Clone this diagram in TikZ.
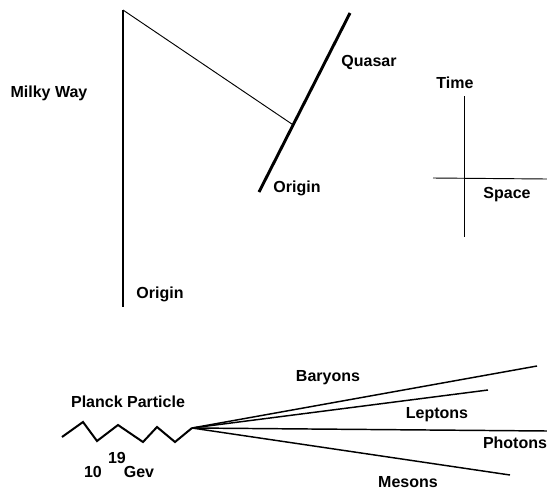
\documentclass[tikz,border=0pt]{standalone}
\usepackage{fontspec}
\setmainfont{Liberation Sans}
\usepackage{tikz}
\usetikzlibrary{positioning,calc}
\tikzset{lbl/.style={font=\bfseries\fontsize{12}{14}\selectfont,inner sep=0pt},worldline/.style={line width=1.5pt},thinline/.style={line width=0.7pt},fanline/.style={line width=1.1pt}}

\begin{document}
\begin{tikzpicture}[x=0.75pt,y=-0.75pt]
\useasboundingbox (0,0) rectangle (547,490);
% galaxy and quasar
\coordinate (mwtop) at (123,10);
\coordinate (mwbot) at (123,307);
\coordinate (qbot) at (259,192);
\coordinate (qtop) at (350,13);
\coordinate (qhit) at ($(qbot)!0.375!(qtop)$);
\draw[worldline] (mwtop)--(mwbot);
\draw[line width=2.2pt] (qbot)--(qtop);
\draw[thinline] (mwtop)--(qhit);
\node[lbl] (milky) at (49,93) {Milky Way};
\node[lbl] (mworigin) at (160,294) {Origin};
\node[lbl] (qorigin) at (297,188) {Origin};
\node[lbl] (quasar) at (369,62) {Quasar};
% axes
\coordinate (tup) at (464,96);
\coordinate (tdown) at (464,237);
\coordinate (sleft) at (433,178);
\coordinate (sright) at (547,179);
\draw[thinline] (tup)--(tdown);
\draw[thinline] (sleft)--(sright);
\node[lbl] (time) at (455,83) {Time};
\node[lbl] (space) at (507,195) {Space};
% planck particle
\coordinate (burst) at (192,428);
\draw[worldline,line join=miter] (62,437)--(83,422)--(97,441)--(118,425)--(143,442)--(157,427)--(175,442)--(burst);
\node[lbl] (planck) at (128,402) {Planck Particle};
\node[lbl] (ten) at (93,472) {10};
\node[lbl] (exp) at (117,458) {19};
\node[lbl] (gev) at (139,472) {Gev};
\coordinate (bend) at (537,366);
\coordinate (lend) at (488,390);
\coordinate (pend) at (547,431);
\coordinate (mend) at (510,475);
\draw[fanline] (burst)--(bend);
\draw[fanline] (burst)--(lend);
\draw[fanline] (burst)--(pend);
\draw[fanline] (burst)--(mend);
\node[lbl] (baryons) at (328,378) {Baryons};
\node[lbl] (leptons) at (437,415) {Leptons};
\node[lbl] (photons) at (515,443) {Photons};
\node[lbl] (mesons) at (408,482) {Mesons};
\end{tikzpicture}
\end{document}
